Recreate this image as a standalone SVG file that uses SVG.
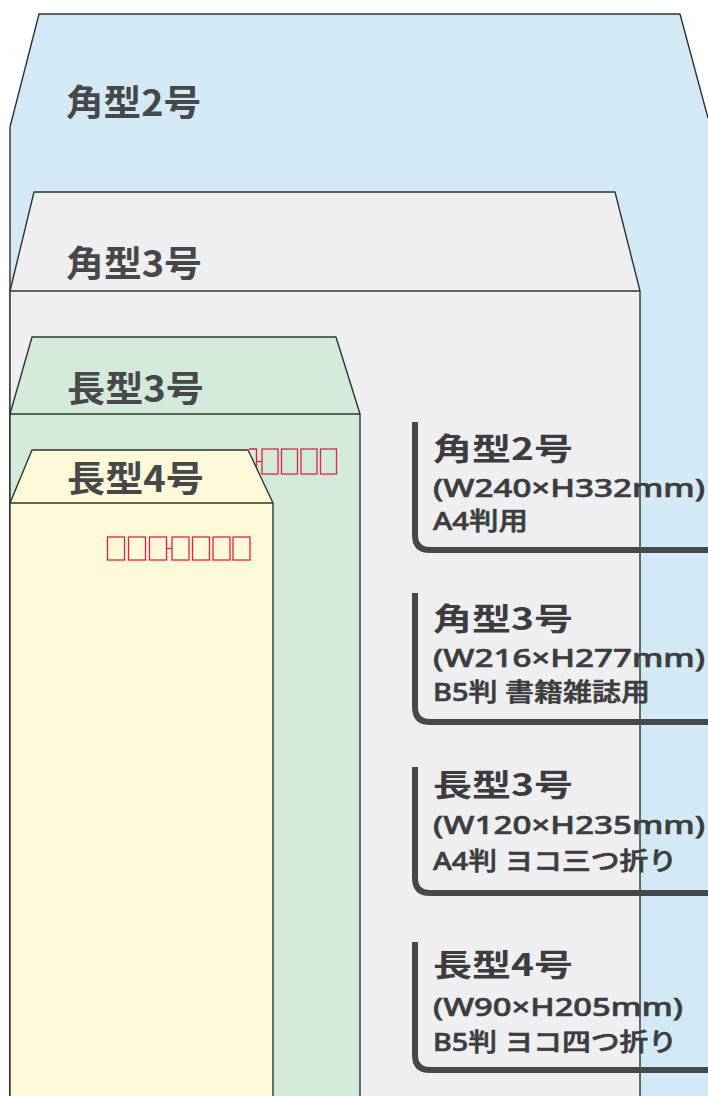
<svg xmlns="http://www.w3.org/2000/svg" width="708" height="1096" viewBox="0 0 708 1096">
<style>
.outline{fill:none;stroke:#2f3333;stroke-width:1.4;stroke-linejoin:round}
.env-label{font-family:"Noto Sans CJK JP","Noto Sans",sans-serif;font-weight:bold;font-size:36px;fill:#464849}
.head{font-family:"Noto Sans CJK JP","Noto Sans",sans-serif;font-weight:bold;font-size:31px;fill:#3b3d3e}
.sub{font-family:"Noto Sans","Noto Sans CJK JP",sans-serif;font-weight:500;font-size:25px;fill:#3b3d3e;stroke:#3b3d3e;stroke-width:0.6}
.postal{fill:none;stroke:#e3223f;stroke-width:1.3}
.bracket{fill:none;stroke:#46494b;stroke-width:6;stroke-linecap:butt;stroke-linejoin:round}
</style>
<rect x="0" y="0" width="708" height="1096" fill="#ffffff"/>

<g id="kaku2">
  <path d="M10,1096 L10,127 L39,14 L680,14 L708,118 L708,1096 Z" fill="#d3e9f6"/>
  <path class="outline" d="M10,1096 L10,127 L39,14 L680,14 L708,118"/>
  <text class="env-label" x="66" y="116" textLength="135" lengthAdjust="spacingAndGlyphs">角型2号</text>
</g>

<g id="kaku3">
  <path d="M10,1096 L10,291 L34,192 L615,192 L640,291 L640,1096 Z" fill="#efeef0"/>
  <path class="outline" d="M10,1096 L10,291 L34,192 L615,192 L640,291 L640,1096"/>
  <path class="outline" d="M10,291 H640"/>
  <text class="env-label" x="66" y="277" textLength="136" lengthAdjust="spacingAndGlyphs">角型3号</text>
</g>

<g id="naga3">
  <path d="M10,1096 L10,414 L32,337 L336,337 L360,414 L360,1096 Z" fill="#d3eadb"/>
  <path class="outline" d="M10,1096 L10,414 L32,337 L336,337 L360,414 L360,1096"/>
  <path class="outline" d="M10,414 H360"/>
  <text class="env-label" x="67" y="402" textLength="137" lengthAdjust="spacingAndGlyphs">長型3号</text>
  <g id="naga3-postal">
    <path class="postal" d="M249,449 H256.5 V474 H259.5"/>
    <path class="postal" d="M256.5,461.5 H262"/>
    <rect class="postal" x="262" y="449" width="16" height="25"/>
    <rect class="postal" x="281.5" y="449" width="16" height="25"/>
    <rect class="postal" x="301" y="449" width="16" height="25"/>
    <rect class="postal" x="320.5" y="449" width="16" height="25"/>
  </g>
</g>

<g id="naga4">
  <path d="M10,1096 L10,503 L32,450 L248,450 L273,503 L273,1096 Z" fill="#fefad9"/>
  <path class="outline" d="M10,1096 L10,503 L32,450 L248,450 L273,503 L273,1096"/>
  <path class="outline" d="M10,503 H273"/>
  <text class="env-label" x="67" y="492" textLength="137" lengthAdjust="spacingAndGlyphs">長型4号</text>
  <g id="naga4-postal">
    <rect class="postal" x="107.5" y="537" width="17" height="23"/>
    <rect class="postal" x="128.5" y="537" width="17" height="23"/>
    <rect class="postal" x="149.5" y="537" width="17" height="23"/>
    <path class="postal" d="M166.5,548.5 H172"/>
    <rect class="postal" x="172" y="537" width="17" height="23"/>
    <rect class="postal" x="192.5" y="537" width="17" height="23"/>
    <rect class="postal" x="213" y="537" width="17" height="23"/>
    <rect class="postal" x="233" y="537" width="17" height="23"/>
  </g>
</g>

<g id="connectors">
  <path class="bracket" d="M415,422 V535 Q415,550 430,550 H708"/>
  <path class="bracket" d="M415,593 V707 Q415,722 430,722 H708"/>
  <path class="bracket" d="M415,767 V878 Q415,893 430,893 H708"/>
  <path class="bracket" d="M415,942 V1055 Q415,1070 430,1070 H708"/>
</g>

<g id="label-kaku2">
  <text class="head" x="433" y="460" textLength="140" lengthAdjust="spacingAndGlyphs">角型2号</text>
  <text class="sub" x="433" y="497" textLength="272" lengthAdjust="spacingAndGlyphs">(W240×H332mm)</text>
  <text class="sub" x="433" y="530" textLength="95" lengthAdjust="spacingAndGlyphs">A4判用</text>
</g>
<g id="label-kaku3">
  <text class="head" x="433" y="630" textLength="140" lengthAdjust="spacingAndGlyphs">角型3号</text>
  <text class="sub" x="433" y="667" textLength="272" lengthAdjust="spacingAndGlyphs">(W216×H277mm)</text>
  <text class="sub" x="433" y="701" textLength="217" lengthAdjust="spacingAndGlyphs">B5判 書籍雑誌用</text>
</g>
<g id="label-naga3">
  <text class="head" x="433" y="796" textLength="140" lengthAdjust="spacingAndGlyphs">長型3号</text>
  <text class="sub" x="433" y="834" textLength="272" lengthAdjust="spacingAndGlyphs">(W120×H235mm)</text>
  <text class="sub" x="433" y="870" textLength="244" lengthAdjust="spacingAndGlyphs">A4判 ヨコ三つ折り</text>
</g>
<g id="label-naga4">
  <text class="head" x="433" y="976" textLength="140" lengthAdjust="spacingAndGlyphs">長型4号</text>
  <text class="sub" x="433" y="1016" textLength="250" lengthAdjust="spacingAndGlyphs">(W90×H205mm)</text>
  <text class="sub" x="433" y="1051" textLength="244" lengthAdjust="spacingAndGlyphs">B5判 ヨコ四つ折り</text>
</g>
</svg>
